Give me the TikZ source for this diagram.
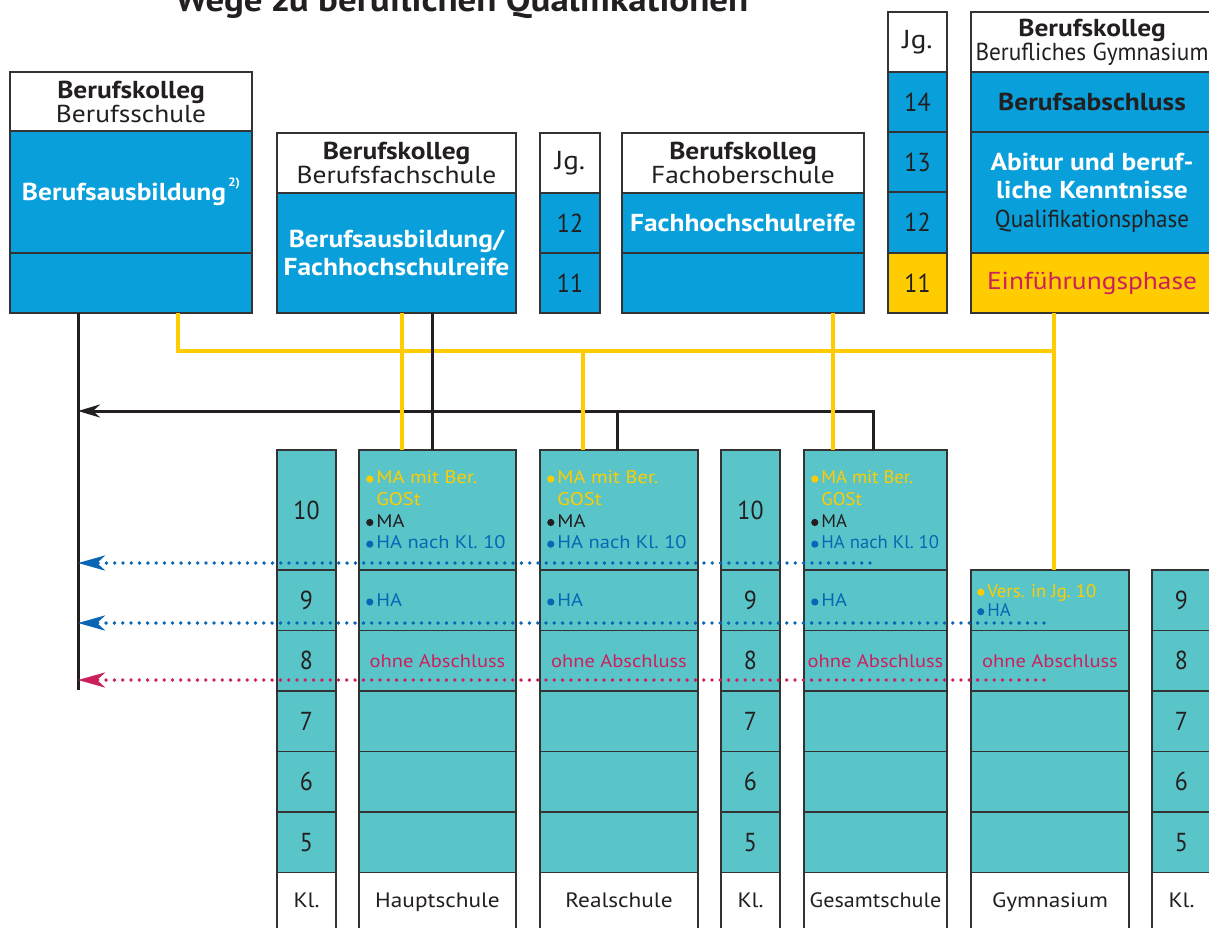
\documentclass[tikz,border=0pt]{standalone}
\usepackage{fontspec}
\setmainfont{PT Sans}[FakeStretch=1.12]
\newfontfamily\zahlfont{PT Sans}[FakeStretch=0.92]
\newfontfamily\engfont{PT Sans}[FakeStretch=1.02]
\usetikzlibrary{arrows.meta,positioning}

\definecolor{bkblau}{HTML}{089FDA}
\definecolor{tuerkis}{HTML}{5AC5C8}
\definecolor{gelb}{HTML}{FFCC00}
\definecolor{hablau}{HTML}{0A66B5}
\definecolor{ohnerot}{HTML}{CC1F5E}
\definecolor{dunkel}{HTML}{231F20}
\definecolor{rand}{HTML}{333333}

\newcommand\punkt[1]{\tikz[baseline=0pt]\fill[#1] (0,4.8pt) circle (3.6pt);\hspace{3pt}}

\begin{document}
\begin{tikzpicture}[x=1pt,y=-1pt,
  zelle/.style={draw=rand,line width=1.2pt,inner sep=0pt,outer sep=0pt,anchor=north west,align=center,text=dunkel},
  kopf/.style={zelle,fill=white,font=\fontsize{24.5}{24}\selectfont},
  bk/.style={zelle,fill=bkblau,text=white,font=\bfseries\fontsize{24.5}{28.5}\selectfont},
  jg/.style={zelle,fill=bkblau,minimum width=60,minimum height=60,font=\zahlfont\fontsize{26}{26}\selectfont},
  kl/.style={zelle,fill=tuerkis,minimum width=59,font=\zahlfont\fontsize{26}{26}\selectfont},
  schule/.style={zelle,fill=tuerkis,minimum height=60.5,font=\fontsize{18.3}{21.7}\selectfont},
  liste/.style={inner sep=0pt,align=left,text=dunkel,font=\fontsize{18.3}{21.7}\selectfont},
  fuss/.style={zelle,fill=white,minimum height=58,text height=15pt,text depth=4pt,font=\fontsize{20.8}{22}\selectfont},
  gelbweg/.style={draw=gelb,line width=3.5pt},
  schwarzweg/.style={draw=dunkel,line width=3pt},
  punktweg/.style={line width=3.8pt,line cap=round,dash pattern=on 0pt off 8.3pt},
  >={Stealth[length=27pt,width=15pt,inset=8pt]}]
\useasboundingbox (0,0) rectangle (1209,927);

\node[font=\bfseries\fontsize{33}{33}\selectfont,text=dunkel,anchor=base] (titel) at (462,11) {Wege zu beruflichen Qualifikationen};

% Berufskolleg
\node[kopf,minimum width=242,minimum height=59] (bsA) at (10,72) {\textbf{Berufskolleg}\\Berufsschule};
\node[bk,minimum width=242,minimum height=122] (bsB) at (bsA.south west) {Berufsausbildung\raisebox{1.1ex}{\fontsize{12}{12}\selectfont\,2)}};
\node[bk,minimum width=242,minimum height=60] (bsC) at (bsB.south west) {};

\node[kopf,minimum width=239,minimum height=60] (bfA) at (277,133) {\textbf{Berufskolleg}\\Berufsfachschule};
\node[bk,minimum width=239,minimum height=120] (bfB) at (bfA.south west) {Berufsausbildung/\\Fachhochschulreife};

\node[kopf,minimum width=60,minimum height=60,font=\fontsize{26}{26}\selectfont] (jgA) at (540,133) {Jg.};
\node[jg] (jg12) at (jgA.south west) {12};
\node[jg] (jg11) at (jg12.south west) {11};

\node[kopf,minimum width=242,minimum height=60] (foA) at (622,133) {\textbf{Berufskolleg}\\Fachoberschule};
\node[bk,minimum width=242,minimum height=60] (foB) at (foA.south west) {Fachhochschulreife};
\node[bk,minimum width=242,minimum height=60] (foC) at (foB.south west) {};

\node[kopf,minimum width=59,minimum height=60,font=\fontsize{26}{26}\selectfont] (jhA) at (888,12) {Jg.};
\node[jg,minimum width=59] (jh14) at (jhA.south west) {14};
\node[jg,minimum width=59] (jh13) at (jh14.south west) {13};
\node[jg,minimum width=59,minimum height=61] (jh12) at (jh13.south west) {12};
\node[jg,minimum width=59,fill=gelb] (jh11) at (jh12.south west) {11};

\node[kopf,minimum width=242,minimum height=60] (bgA) at (971,12) {\textbf{Berufskolleg}\\\scalebox{0.85}[1]{Berufliches Gymnasium}};
\node[bk,text=dunkel,minimum width=242,minimum height=60] (bgB) at (bgA.south west) {Berufsabschluss};
\node[bk,minimum width=242,minimum height=121] (bgC) at (bgB.south west) {Abitur und beruf-\\liche Kenntnisse\\{\mdseries\color{dunkel}\scalebox{0.84}[1]{Qualifikationsphase}}};
\node[bk,fill=gelb,minimum width=242,minimum height=60] (bgD) at (bgC.south west) {\mdseries\color{ohnerot}Einführungsphase};

% Klassenspalten
\foreach \s/\x in {ka/277,kb/721} {
  \node[kl,minimum height=120] (\s10) at (\x,450) {10};
}
\foreach \s/\x in {ka/277,kb/721,kc/1152} {
  \foreach \n/\y in {9/570,8/630.5,7/691,6/751.5,5/812}
    \node[kl,minimum height=60.5] (\s\n) at (\x,\y) {\n};
  \node[fuss,minimum width=59] (\s-fuss) at (\x,872.5) {Kl.};
}

% Schulformen
\foreach \s/\x/\w/\ff/\bez in {hs/359/157/\rmfamily/Hauptschule,rs/540/158/\rmfamily/Realschule,gs/804/143/\engfont/\scalebox{0.95}[1]{Gesamtschule}} {
  \node[schule,minimum width=\w,minimum height=120] (\s10) at (\x,450) {};
  \node[liste,anchor=west,font={\ff\fontsize{18.3}{21.7}\selectfont}] (\s10t) at ([xshift=7pt]\s10.west)
    {\punkt{gelb}{\color{gelb}MA mit Ber.}\\\hphantom{\punkt{gelb}}{\color{gelb}GOSt}\\\punkt{dunkel}MA\\\punkt{hablau}{\color{hablau}HA nach Kl.~10}};
  \node[schule,minimum width=\w] (\s9) at (\x,570) {};
  \node[liste,anchor=west] (\s9t) at ([xshift=7pt]\s9.west) {\punkt{hablau}{\color{hablau}HA}};
  \node[schule,minimum width=\w,text=ohnerot] (\s8) at (\x,630.5) {ohne Abschluss};
  \foreach \n/\y in {7/691,6/751.5,5/812}
    \node[schule,minimum width=\w] (\s\n) at (\x,\y) {};
  \node[fuss,minimum width=\w] (\s-fuss) at (\x,872.5) {\bez};
}

\node[schule,minimum width=158] (gy9) at (971,570) {};
\node[liste,anchor=west,font={\engfont\fontsize{18.3}{19.5}\selectfont}] (gy9t) at ([xshift=6pt]gy9.west) {\punkt{gelb}{\color{gelb}Vers. in Jg.~10}\\\punkt{hablau}{\color{hablau}HA}};
\node[schule,minimum width=158,text=ohnerot] (gy8) at (971,630.5) {ohne Abschluss};
\foreach \n/\y in {7/691,6/751.5,5/812}
  \node[schule,minimum width=158] (gy\n) at (971,\y) {};
\node[fuss,minimum width=158] (gy-fuss) at (971,872.5) {Gymnasium};

% Wege
\coordinate (stamm) at (78,690);
\coordinate (pfeil) at (78,411);
\coordinate (gelbR) at (1054,351);
\coordinate (blau1) at (870,563);
\coordinate (blau2) at (1044,623);
\coordinate (rot3) at (1044,680);

\draw[schwarzweg,-{Stealth[length=22pt,width=13pt,inset=7pt]}] ([xshift=69pt]gs10.north west) |- (pfeil);
\draw[schwarzweg] ([xshift=77pt]rs10.north west) -- ++(0,-39);
\draw[schwarzweg] ([xshift=68pt]bsC.south west) -- (stamm);

\draw[gelbweg] ([xshift=168pt]bsC.south west) |- (gelbR) -- ([xshift=83pt]gy9.north west);
\draw[gelbweg] ([xshift=83pt]bgD.south west) -- (gelbR);
\draw[gelbweg] ([xshift=125pt]bfB.south west) -- ([xshift=43pt]hs10.north west);
\draw[gelbweg] ([xshift=43pt]rs10.north west) -- ++(0,-99);
\draw[gelbweg] ([xshift=211pt]foC.south west) -- ([xshift=29pt]gs10.north west);

\draw[schwarzweg] ([xshift=155pt]bfB.south west) -- ([xshift=73pt]hs10.north west);

\draw[punktweg,hablau,->] (blau1) -- (blau1 -| stamm);
\draw[punktweg,hablau,->] (blau2) -- (blau2 -| stamm);
\draw[punktweg,ohnerot,->] (rot3) -- (rot3 -| stamm);
\end{tikzpicture}
\end{document}
